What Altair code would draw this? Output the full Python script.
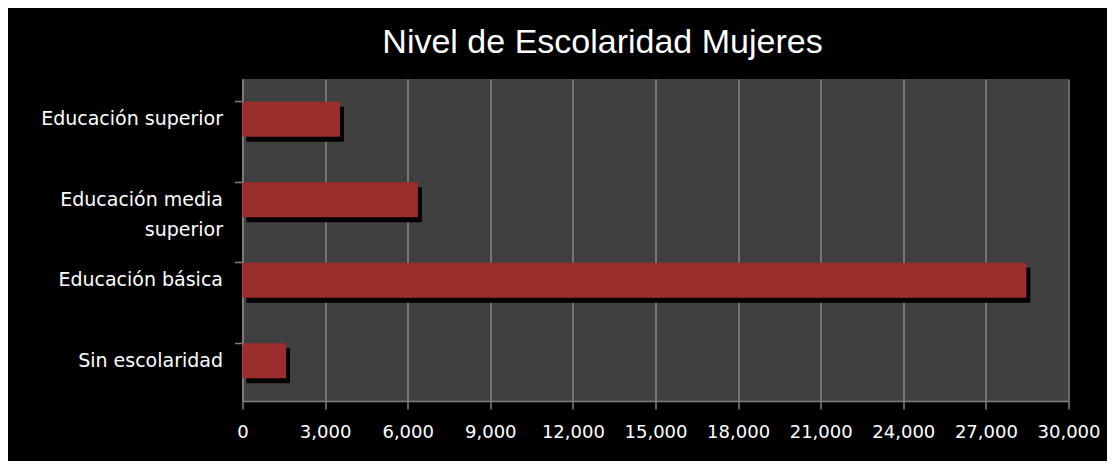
import altair as alt
import pandas as pd

categories = ["Educación superior", "Educación media superior", "Educación básica", "Sin escolaridad"]
values = [3540, 6370, 28470, 1580]
x_ticks = [0, 3000, 6000, 9000, 12000, 15000, 18000, 21000, 24000, 27000, 30000]

df = pd.DataFrame({"nivel": categories, "mujeres": values})

label_font = "DejaVu Sans"

y_enc = alt.Y(
    "nivel:N",
    sort=categories,
    title=None,
    scale=alt.Scale(paddingInner=0.565, paddingOuter=0.2825),
    axis=alt.Axis(
        labelExpr="datum.label == 'Educación media superior' ? ['Educación media', 'superior'] : datum.label",
        labelFont=label_font,
        labelFontSize=19,
        labelColor="#ffffff",
        labelPadding=12,
        labelLimit=300,
        labelLineHeight=30,
        labelOverlap=False,
        tickColor="#808080",
        tickSize=8,
        tickWidth=1.5,
        bandPosition=0,
        domainColor="#808080",
        domainWidth=1.5,
        grid=False,
    ),
)

x_enc = alt.X(
    "mujeres:Q",
    title=None,
    scale=alt.Scale(domain=[0, 30000], nice=False),
    axis=alt.Axis(
        values=x_ticks,
        format=",.0f",
        labelFont=label_font,
        labelFontSize=18,
        labelColor="#ffffff",
        labelPadding=14,
        labelOverlap=False,
        labelFlush=False,
        tickColor="#808080",
        tickSize=8,
        tickWidth=1.5,
        domainColor="#808080",
        domainWidth=1.5,
        grid=True,
        gridColor="#868686",
        gridWidth=1.5,
    ),
)

shadow = alt.Chart(df).mark_bar(color="#000000", xOffset=4, yOffset=5).encode(x=x_enc, y=y_enc)
bars = alt.Chart(df).mark_bar(color="#9b2d2d").encode(x=x_enc, y=y_enc)

chart = (
    alt.layer(shadow, bars)
    .properties(
        width=826,
        height=322,
        autosize=alt.AutoSizeParams(type="none"),
        padding={"left": 234.5, "top": 71, "right": 38.5, "bottom": 60},
        background="#000000",
        title=alt.TitleParams(
            "Nivel de Escolaridad Mujeres",
            font="Liberation Sans",
            fontSize=34,
            fontWeight="normal",
            color="#ffffff",
            anchor="middle",
            dx=-53,
            dy=34,
            baseline="alphabetic",
            offset=26,
        ),
    )
    .configure_view(fill="#404040", stroke=None)
)

chart.save("out.html", embed_options={"renderer": "svg", "actions": False})
